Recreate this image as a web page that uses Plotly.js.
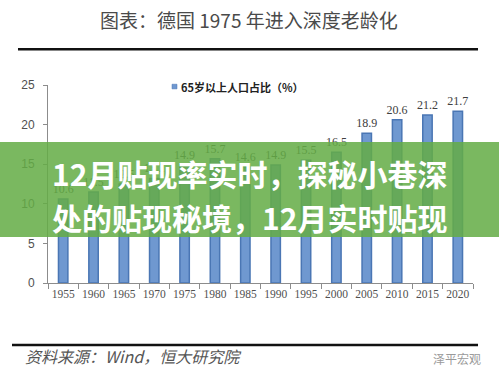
<!DOCTYPE html>
<html>
<head>
<meta charset="utf-8">
<script src="https://cdn.plot.ly/plotly-3.0.1.min.js"></script>
<style>html,body{margin:0;padding:0;background:#fff;}#chart{width:499px;height:381px;}</style>
</head>
<body>
<div id="chart"></div>
<script>
const years = ['1955','1960','1965','1970','1975','1980','1985','1990','1995','2000','2005','2010','2015','2020'];
const share65 = [10.6, 11.5, 12.5, 13.2, 14.9, 15.7, 14.6, 14.9, 15.5, 16.5, 18.9, 20.6, 21.2, 21.7];
const seriesName = '65岁以上人口占比（%）';
const chartTitle = '图表：德国 1975 年进入深度老龄化';
const sourceText = '资料来源：Wind，恒大研究院';
const watermark = '泽平宏观';
const overlayLine1 = '12月贴现率实时，探秘小巷深';
const overlayLine2 = '处的贴现秘境，12月实时贴现';

const trace = {
  type: 'bar',
  x: years,
  y: share65,
  name: seriesName,
  width: 0.31,
  marker: {color: '#6f98d0', line: {color: '#4a76b4', width: 1.5}},
  text: share65.map(v => v.toFixed(1)),
  textposition: 'outside',
  constraintext: 'none',
  cliponaxis: false,
  textfont: {family: 'Liberation Serif, serif', size: 12, color: '#404040'},
  showlegend: false,
  hoverinfo: 'x+y'
};

const layout = {
  width: 499, height: 381,
  margin: {l: 48, r: 26, t: 85, b: 98},
  paper_bgcolor: '#ffffff', plot_bgcolor: '#ffffff',
  bargap: 0.7,
  xaxis: {
    type: 'category',
    showline: true, linecolor: '#8c8c8c', linewidth: 1,
    ticks: 'outside', tickson: 'boundaries', ticklen: 5, tickcolor: '#8c8c8c',
    tickangle: 0,
    tickfont: {family: 'Liberation Serif, serif', size: 11.5, color: '#505050'},
    showgrid: false, zeroline: false
  },
  yaxis: {
    range: [0, 25], dtick: 5,
    showline: true, linecolor: '#8c8c8c', linewidth: 1,
    ticks: 'outside', ticklen: 4, tickcolor: '#8c8c8c',
    ticklabelstandoff: 6,
    tickfont: {family: 'Liberation Sans, sans-serif', size: 12, color: '#505050'},
    showgrid: false, zeroline: false
  },
  shapes: [
    {type: 'line', xref: 'paper', yref: 'paper', x0: -0.0706, x1: 1.0118, y0: 1.1806, y1: 1.1806,
      line: {color: '#111', width: 2.5}},
    {type: 'rect', xref: 'paper', yref: 'paper', x0: 0.2918, x1: 0.3035, y0: 1.0039, y1: 0.9804,
      fillcolor: '#6f98d0', line: {color: '#4a76b4', width: 0.5}},
    {type: 'line', xref: 'paper', yref: 'paper', x0: -0.0847, x1: 1.0118, y0: -0.3129, y1: -0.3129,
      line: {color: '#111', width: 2.5}},
    {type: 'rect', xref: 'paper', yref: 'paper', layer: 'above', x0: -0.1176, x1: 1.0612, y0: 0.232, y1: 0.712,
      fillcolor: 'rgba(100,172,70,0.86)', line: {width: 0}}
  ],
  annotations: [
    {xref: 'paper', yref: 'paper', x: 0.4729, y: 1.3314, text: chartTitle, showarrow: false,
      xanchor: 'center', yanchor: 'middle',
      font: {family: 'Noto Sans CJK SC, sans-serif', size: 19, color: '#4a4a4a'}},
    {xref: 'paper', yref: 'paper', x: 0.3082, y: 0.9922, text: seriesName, showarrow: false,
      xanchor: 'left', yanchor: 'middle',
      font: {family: 'Noto Sans CJK SC, sans-serif', size: 11, color: '#222', weight: 'bold'}},
    {xref: 'paper', yref: 'paper', x: -0.0588, y: -0.3674, text: sourceText, showarrow: false,
      xanchor: 'left', yanchor: 'middle',
      font: {family: 'Noto Sans CJK SC, sans-serif', size: 16, color: '#555', style: 'italic'}},
    {xref: 'paper', yref: 'paper', x: 1.0235, y: -0.3792, text: watermark, showarrow: false,
      xanchor: 'right', yanchor: 'middle',
      font: {family: 'Noto Sans CJK SC, sans-serif', size: 12, color: '#9a9a9a'}},
    {xref: 'paper', yref: 'paper', x: 0.475, y: 0.556, text: overlayLine1, showarrow: false,
      xanchor: 'center', yanchor: 'middle',
      font: {family: 'Noto Sans CJK SC, sans-serif', size: 30, color: '#ffffff', weight: 'bold'}},
    {xref: 'paper', yref: 'paper', x: 0.475, y: 0.333, text: overlayLine2, showarrow: false,
      xanchor: 'center', yanchor: 'middle',
      font: {family: 'Noto Sans CJK SC, sans-serif', size: 30, color: '#ffffff', weight: 'bold'}}
  ]
};

Plotly.newPlot('chart', [trace], layout, {displayModeBar: false, staticPlot: true});
</script>
</body>
</html>
